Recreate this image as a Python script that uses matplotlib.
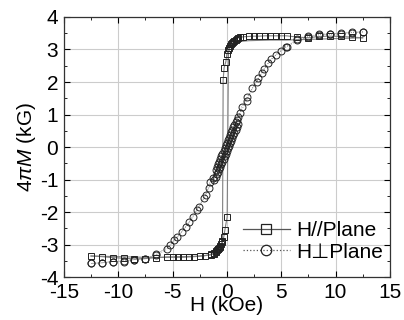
import numpy as np
import matplotlib
matplotlib.use("Agg")
import matplotlib.pyplot as plt
from matplotlib.ticker import MultipleLocator

plt.rcParams['font.family'] = ['Liberation Sans', 'DejaVu Sans']
plt.rcParams['mathtext.fontset'] = 'custom'
plt.rcParams['mathtext.it'] = 'Liberation Sans:italic'
plt.rcParams['mathtext.rm'] = 'Liberation Sans'
plt.rcParams['axes.unicode_minus'] = False

# H // plane, field sweeping down (kOe, kG)
par_down_h = [12.5, 11.5, 10.5, 9.5, 8.5, 7.5, 6.5, 5.5, 5.0, 4.5, 4.0, 3.5, 3.0, 2.5,
              2.0, 1.5, 1.2, 1.0, 0.9, 0.8, 0.7, 0.6, 0.5, 0.4, 0.3, 0.2, 0.1, 0.0,
              -0.09, -0.25, -0.34,
              -0.4, -0.5, -0.6, -0.7, -0.8, -0.9, -1.0, -1.2, -1.5, -2.0, -2.5, -3.0,
              -3.5, -4.0, -4.5, -5.0, -5.5, -6.5, -7.5, -8.5, -9.5, -10.5, -11.5, -12.5]
par_down_m = [3.36, 3.38, 3.40, 3.41, 3.40, 3.36, 3.38, 3.42, 3.42, 3.42, 3.42, 3.42, 3.41, 3.41,
              3.40, 3.39, 3.37, 3.35, 3.33, 3.30, 3.27, 3.24, 3.20, 3.16, 3.11, 3.05, 2.97, 2.85,
              2.63, 2.44, 2.06,
              -2.88, -2.98, -3.05, -3.10, -3.14, -3.18, -3.21, -3.26, -3.30, -3.34, -3.36, -3.37,
              -3.38, -3.39, -3.39, -3.39, -3.39, -3.40, -3.43, -3.44, -3.42, -3.40, -3.37, -3.35]

# H // plane, field sweeping up
par_up_h = [-12.5, -6.5, -5.5, -3.0, -1.5, -1.2, -1.0, -0.8, -0.6, -0.4, -0.28, -0.18, 0.03,
            0.15, 0.3, 0.6, 1.0, 2.0, 3.0, 4.0, 5.5, 12.5]
par_up_m = [-3.35, -3.40, -3.38, -3.36, -3.32, -3.28, -3.22, -3.14, -3.06, -2.92, -2.76, -2.55, -2.14,
            2.90, 3.08, 3.18, 3.24, 3.27, 3.28, 3.29, 3.29, 3.36]
par_up_marked = [False, False, False, False, True, True, True, True, True, True, True, True, True,
                 False, False, False, False, False, False, False, False, False]

# H perpendicular to plane, sweeping down
perp_down_h = [12.5, 11.5, 10.5, 9.5, 8.5, 7.5, 6.5, 5.43, 4.48, 3.80, 3.25, 2.73, 2.36, 1.81, 1.2,
               1.0, 0.9, 0.8, 0.7, 0.6, 0.5, 0.4, 0.3, 0.2, 0.1, 0.0, -0.1, -0.2, -0.3, -0.4,
               -0.5, -0.6, -0.7, -0.8, -0.9, -1.0, -1.26, -1.66, -2.09, -2.79, -3.47, -4.17,
               -4.85, -5.55, -6.5, -7.5, -8.5, -9.5, -10.5, -11.5, -12.5]
perp_down_m = [3.53, 3.52, 3.50, 3.48, 3.47, 3.40, 3.31, 3.09, 2.83, 2.57, 2.29, 2.01, 1.81, 1.42, 1.04,
               0.92, 0.84, 0.76, 0.69, 0.61, 0.53, 0.45, 0.37, 0.29, 0.21, 0.13, 0.05, -0.03, -0.12, -0.20,
               -0.28, -0.36, -0.45, -0.53, -0.62, -0.71, -0.96, -1.27, -1.58, -1.94, -2.30, -2.61,
               -2.86, -3.15, -3.32, -3.43, -3.46, -3.50, -3.52, -3.56, -3.58]

# H perpendicular to plane, sweeping up
perp_up_h = [-12.5, -11.5, -10.5, -9.5, -8.5, -7.5, -6.5, -5.24, -4.57, -3.80, -3.10, -2.58, -1.96,
             -1.56, -1.2, -1.0, -0.9, -0.8, -0.7, -0.6, -0.5, -0.4, -0.3, -0.2, -0.1, 0.0, 0.1,
             0.2, 0.3, 0.4, 0.5, 0.6, 0.7, 0.8, 0.9, 1.0, 1.35, 1.90, 2.88, 3.40, 4.05, 4.97,
             5.5, 6.5, 7.5, 8.5, 9.5, 10.5, 11.5, 12.5]
perp_up_m = [-3.58, -3.56, -3.52, -3.52, -3.46, -3.43, -3.30, -3.02, -2.78, -2.47, -2.14, -1.84, -1.48,
             -1.07, -1.00, -0.92, -0.84, -0.76, -0.68, -0.61, -0.53, -0.45, -0.37, -0.28, -0.20, -0.12, -0.04,
             0.04, 0.12, 0.20, 0.28, 0.36, 0.44, 0.53, 0.62, 0.72, 1.24, 1.55, 2.11, 2.39, 2.70, 2.96,
             3.08, 3.28, 3.38, 3.45, 3.47, 3.49, 3.53, 3.55]

fig = plt.figure(figsize=(4.04, 3.2), dpi=100)
ax = fig.add_axes([0.158, 0.134, 0.807, 0.813])

line_col = '#808080'
mk = dict(mfc='none', mec='#222222', mew=0.7, ls='none')

# connecting lines
ax.plot(par_down_h, par_down_m, color=line_col, lw=0.8, zorder=2)
ax.plot(par_up_h, par_up_m, color=line_col, lw=0.8, zorder=2)
ax.plot(perp_down_h, perp_down_m, color=line_col, lw=0.6, ls=':', zorder=2)
ax.plot(perp_up_h, perp_up_m, color=line_col, lw=0.6, ls=':', zorder=2)

# markers
ax.plot(par_down_h, par_down_m, marker='s', ms=4.4, zorder=3, **mk)
up_h = [h for h, k in zip(par_up_h, par_up_marked) if k]
up_m = [m for m, k in zip(par_up_m, par_up_marked) if k]
ax.plot(up_h, up_m, marker='s', ms=4.4, zorder=3, **mk)
ax.plot(perp_down_h, perp_down_m, marker='o', ms=5.0, zorder=3, **mk)
ax.plot(perp_up_h, perp_up_m, marker='o', ms=5.0, zorder=3, **mk)

# legend proxies
h1, = ax.plot([], [], color='#555555', lw=0.9, marker='s', ms=6.5, mfc='none', mec='#222222', mew=0.9)
h2, = ax.plot([], [], color='#555555', lw=0.9, ls=':', marker='o', ms=7.5, mfc='none', mec='#222222', mew=0.9)
ax.legend([h1, h2], ['H//Plane', 'H\u22a5Plane'], loc='lower left', bbox_to_anchor=(0.549, 0.06),
          frameon=False, fontsize=15, numpoints=1, handlelength=2.25, handletextpad=0.3,
          labelspacing=0.1, borderaxespad=0.0, borderpad=0.0)

ax.set_xlim(-15, 15)
ax.set_ylim(-4, 4)
ax.xaxis.set_major_locator(MultipleLocator(5))
ax.xaxis.set_minor_locator(MultipleLocator(2.5))
ax.yaxis.set_major_locator(MultipleLocator(1))
ax.yaxis.set_minor_locator(MultipleLocator(0.5))
ax.grid(True, which='major', color='#cccccc', lw=0.8)
ax.set_axisbelow(True)
ax.tick_params(which='both', direction='in', top=True, right=True, labelsize=15)
ax.tick_params(axis='y', which='major', pad=4)
ax.tick_params(axis='x', which='major', pad=4.5)
ax.tick_params(which='major', length=4)
ax.tick_params(which='minor', length=2)
for s in ax.spines.values():
    s.set_color('#333333')
    s.set_linewidth(0.9)

ax.set_xlabel('H (kOe)', fontsize=15, labelpad=-4.5)
ax.set_ylabel(r'$\mathit{4\pi M}$ (kG)', fontsize=15, labelpad=1)

fig.savefig('out.png', dpi=100)
